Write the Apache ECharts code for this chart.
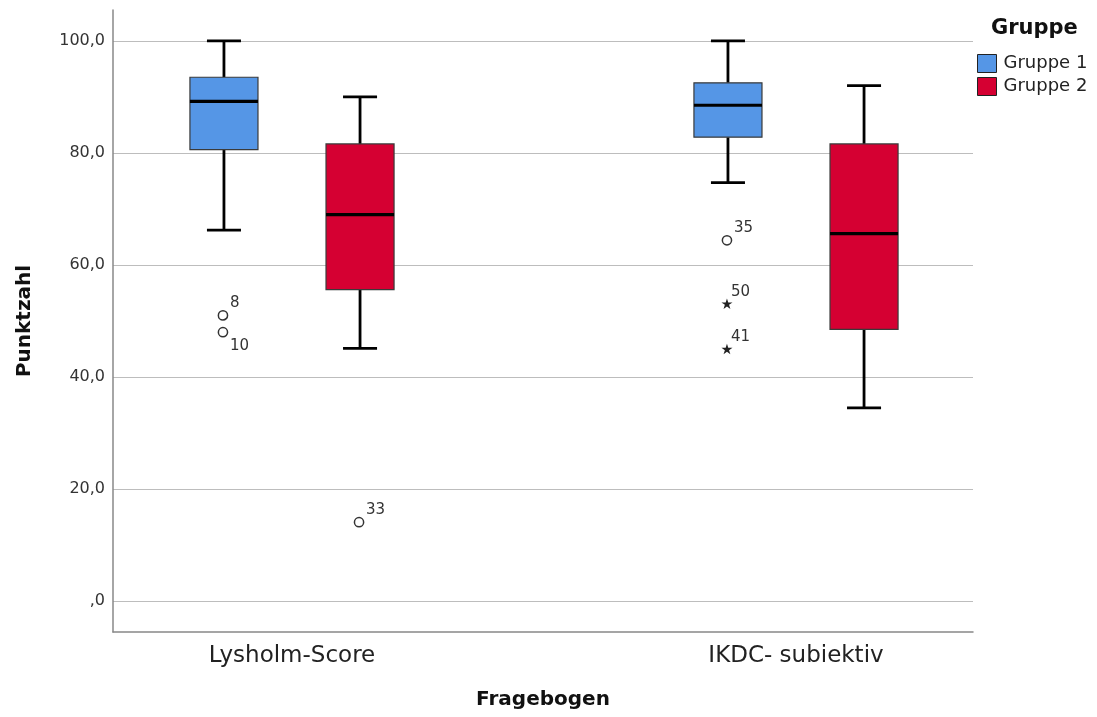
<!DOCTYPE html>
<html><head><meta charset="utf-8">
<script src="https://cdn.jsdelivr.net/npm/echarts@6/dist/echarts.min.js"></script>
<style>html,body{margin:0;padding:0;background:#fff}#c{width:1097px;height:717px}</style>
</head><body><div id="c"></div>
<script>
const categories = ['Lysholm-Score', 'IKDC- subiektiv'];
const groups = ['Gruppe 1', 'Gruppe 2'];
// [min, Q1, median, Q3, max] per category
const gruppe1Box = [[66.2, 80.6, 89.2, 93.5, 100.0], [74.7, 82.8, 88.5, 92.5, 100.0]];
const gruppe2Box = [[45.1, 55.6, 69.0, 81.6, 90.0], [34.5, 48.5, 65.6, 81.6, 92.0]];
// outliers: [categoryIndex, value, case id, kind ('o' = outlier, '*' = extreme)]
const gruppe1Outliers = [[0, 51.0, '8', 'o'], [0, 48.0, '10', 'o'], [1, 64.4, '35', 'o'], [1, 53.0, '50', '*'], [1, 44.9, '41', '*']];
const gruppe2Outliers = [[0, 14.1, '33', 'o']];
const yTicks = [0, 20, 40, 60, 80, 100];

const colors = ['#5596e6', '#d50032'];
const offsets = [-0.135, 0.135];
const BOXW = 0.135;
const FONT = 'DejaVu Sans';

function boxRender(off) {
  return function (params, api) {
    const cat = api.value(0);
    const band = api.size([1, 0])[0];
    const cx = api.coord([cat, 0])[0] + off * band;
    const w = band * BOXW;
    const cap = w / 4;
    const y = i => api.coord([cat, api.value(i)])[1];
    const yMin = y(1), yQ1 = y(2), yMed = y(3), yQ3 = y(4), yMax = y(5);
    const ls = { stroke: '#000', lineWidth: 2.8 };
    return {
      type: 'group', children: [
        { type: 'line', shape: { x1: cx, y1: yMax, x2: cx, y2: yQ3 }, style: ls },
        { type: 'line', shape: { x1: cx, y1: yQ1, x2: cx, y2: yMin }, style: ls },
        { type: 'line', shape: { x1: cx - cap, y1: yMax, x2: cx + cap, y2: yMax }, style: ls },
        { type: 'line', shape: { x1: cx - cap, y1: yMin, x2: cx + cap, y2: yMin }, style: ls },
        { type: 'rect', shape: { x: cx - w / 2, y: yQ3, width: w, height: yQ1 - yQ3 },
          style: { fill: api.visual('color'), stroke: '#3a3a3a', lineWidth: 1.2 } },
        { type: 'line', shape: { x1: cx - w / 2, y1: yMed, x2: cx + w / 2, y2: yMed }, style: { stroke: '#000', lineWidth: 3.2 } }
      ]
    };
  };
}

function starPoints(cx, cy, R, r) {
  const pts = [];
  for (let k = 0; k < 10; k++) {
    const a = -Math.PI / 2 + k * Math.PI / 5;
    const rad = k % 2 === 0 ? R : r;
    pts.push([cx + rad * Math.cos(a), cy + rad * Math.sin(a)]);
  }
  return pts;
}

function outlierRender(off, list) {
  return function (params, api) {
    const d = list[params.dataIndex];
    const cat = api.value(0);
    const band = api.size([1, 0])[0];
    const p = api.coord([cat, api.value(1)]);
    const cx = p[0] + off * band - 1;
    const cy = p[1];
    const below = d[2] === '10';
    const mark = d[3] === '*'
      ? { type: 'polygon', shape: { points: starPoints(cx, cy, 5.8, 2.2) }, style: { fill: '#222' } }
      : { type: 'circle', shape: { cx: cx, cy: cy, r: 4.6 }, style: { fill: '#fff', stroke: '#333', lineWidth: 1.5 } };
    const label = {
      type: 'text',
      style: {
        text: d[2], x: cx + (d[3] === '*' ? 4 : 7), y: below ? cy + 6 : cy - 5,
        fontSize: 15, fontFamily: FONT, fill: '#333',
        verticalAlign: below ? 'top' : 'bottom', align: 'left'
      }
    };
    return { type: 'group', children: [mark, label] };
  };
}

const boxData = [gruppe1Box, gruppe2Box];
const outData = [gruppe1Outliers, gruppe2Outliers];
const series = [];
groups.forEach((g, gi) => {
  series.push({
    name: g, type: 'custom', xAxisIndex: 1, yAxisIndex: 1,
    itemStyle: { color: colors[gi], borderColor: '#222' },
    renderItem: boxRender(offsets[gi]),
    encode: { x: 0, y: [1, 2, 3, 4, 5] },
    data: boxData[gi].map((d, i) => [i].concat(d))
  });
  series.push({
    name: g + ' Ausreißer', type: 'custom', xAxisIndex: 1, yAxisIndex: 1,
    renderItem: outlierRender(offsets[gi], outData[gi]),
    encode: { x: 0, y: 1 },
    data: outData[gi].map(d => [d[0], d[1]])
  });
});

const fmt = v => {
  const s = v.toFixed(1).replace('.', ',');
  return s.startsWith('0,') ? s.slice(1) : s;
};

const chart = echarts.init(document.getElementById('c'));
chart.setOption({
  animation: false,
  textStyle: { fontFamily: FONT },
  title: { text: 'Gruppe', left: 991, top: 18, padding: 0,
    textStyle: { fontSize: 21, fontWeight: 'bold', color: '#111', fontFamily: FONT } },
  legend: {
    data: groups, orient: 'vertical', left: 977, top: 54, padding: 0,
    itemWidth: 19, itemHeight: 18, itemGap: 4, icon: 'rect',
    textStyle: { fontSize: 18, color: '#222', fontFamily: FONT, lineHeight: 18, padding: [0, 0, 0, 2] },
    itemStyle: { borderColor: '#222', borderWidth: 1 }
  },
  grid: [
    { left: 113, right: 124, top: 10, bottom: 85 },
    { left: 40, right: 49, top: 10, bottom: 85 }
  ],
  xAxis: [
    { gridIndex: 0, type: 'value', min: 0, max: 1,
      axisLine: { show: true, onZero: false, lineStyle: { color: '#888', width: 1.5 } },
      axisTick: { show: false }, axisLabel: { show: false }, splitLine: { show: false },
      name: 'Fragebogen', nameLocation: 'middle', nameGap: 58,
      nameTextStyle: { fontSize: 20, fontWeight: 'bold', color: '#111', fontFamily: FONT } },
    { gridIndex: 1, type: 'category', data: categories,
      axisLine: { show: false }, axisTick: { show: false }, splitLine: { show: false },
      axisLabel: { fontSize: 23, color: '#222', margin: 13, fontFamily: FONT } }
  ],
  yAxis: [
    { gridIndex: 0, type: 'value', min: -5.5, max: 105.5,
      axisLine: { show: true, onZero: false, lineStyle: { color: '#888', width: 1.5 } },
      axisTick: { show: false, customValues: yTicks },
      axisLabel: { customValues: yTicks, formatter: fmt, fontSize: 16, color: '#333', margin: 8, fontFamily: FONT },
      splitLine: { show: true, lineStyle: { color: '#bdbdbd', width: 1.2 } },
      name: 'Punktzahl', nameLocation: 'middle', nameGap: 78,
      nameTextStyle: { fontSize: 20, fontWeight: 'bold', color: '#111', fontFamily: FONT } },
    { gridIndex: 1, type: 'value', min: -5.5, max: 105.5, show: false, splitLine: { show: false } }
  ],
  series: series
});
</script></body></html>
